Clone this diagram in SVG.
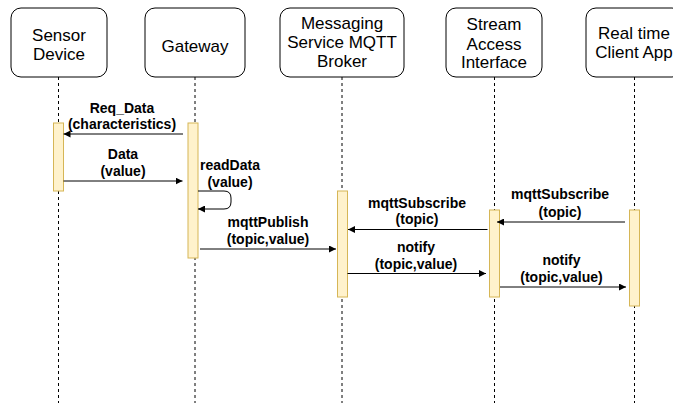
<svg xmlns="http://www.w3.org/2000/svg" width="673" height="403" viewBox="0 0 673 403">
  <style>
    .node rect { fill: #ffffff; stroke: #000000; stroke-width: 1; }
    .node text { font-family: "Liberation Sans", Arial, Helvetica, sans-serif; font-size: 17px; fill: #000000; text-anchor: middle; }
    .life { stroke: #000000; stroke-width: 1; stroke-dasharray: 3 3; fill: none; }
    .act { fill: #fff2cc; stroke: #d6b656; stroke-width: 1; }
    .msg { stroke: #000000; stroke-width: 1; fill: none; }
    .lbl { font-family: "Liberation Sans", Arial, Helvetica, sans-serif; font-size: 14px; font-weight: bold; fill: #000000; text-anchor: middle; }
  </style>
  <defs>
    <marker id="arrow" viewBox="0 0 10 10" refX="10" refY="5" markerWidth="7" markerHeight="7" orient="auto" markerUnits="userSpaceOnUse">
      <path d="M0,0 L10,5 L0,10 Z" fill="#000000"/>
    </marker>
  </defs>

  <rect width="673" height="403" fill="#ffffff"/>

  <!-- lifelines -->
  <g id="lifelines">
    <line class="life" x1="58.5" y1="77" x2="58.5" y2="403"/>
    <line class="life" x1="195" y1="77" x2="195" y2="403"/>
    <line class="life" x1="342" y1="77" x2="342" y2="403"/>
    <line class="life" x1="494.5" y1="77" x2="494.5" y2="403"/>
    <line class="life" x1="634.5" y1="77" x2="634.5" y2="403"/>
  </g>

  <!-- participants -->
  <g id="sensor" class="node">
    <rect x="11" y="8" width="96" height="69" rx="10"/>
    <text x="59" y="41">Sensor</text>
    <text x="59" y="60">Device</text>
  </g>
  <g id="gateway" class="node">
    <rect x="145" y="8" width="100" height="69" rx="10"/>
    <text x="195" y="52">Gateway</text>
  </g>
  <g id="broker" class="node">
    <rect x="280" y="8" width="124" height="69" rx="10"/>
    <text x="342" y="29">Messaging</text>
    <text x="342" y="48">Service MQTT</text>
    <text x="342" y="67">Broker</text>
  </g>
  <g id="stream" class="node">
    <rect x="446" y="8" width="96" height="69" rx="10"/>
    <text x="494" y="30">Stream</text>
    <text x="494" y="49.5">Access</text>
    <text x="494" y="68">Interface</text>
  </g>
  <g id="client" class="node">
    <rect x="586" y="8" width="96" height="69" rx="10"/>
    <text x="634" y="38.5">Real time</text>
    <text x="634" y="57.5">Client App</text>
  </g>

  <!-- activation bars -->
  <g id="activations">
    <rect class="act" x="53.5" y="123" width="10" height="68"/>
    <rect class="act" x="188" y="123" width="10" height="135"/>
    <rect class="act" x="337.5" y="191" width="10" height="106"/>
    <rect class="act" x="489.5" y="210" width="10" height="87"/>
    <rect class="act" x="629.5" y="210" width="10" height="96"/>
  </g>

  <!-- messages -->
  <g id="connectors">
    <line class="msg" x1="183" y1="134" x2="63.5" y2="134" marker-end="url(#arrow)"/>
    <line class="msg" x1="63.5" y1="181" x2="182.5" y2="181" marker-end="url(#arrow)"/>
    <path class="msg" d="M198,191 H224 Q231,191 231,198 V202 Q231,209 224,209 H198" marker-end="url(#arrow)"/>
    <line class="msg" x1="200" y1="249" x2="336" y2="249" marker-end="url(#arrow)"/>
    <line class="msg" x1="487.5" y1="229.5" x2="348" y2="229.5" marker-end="url(#arrow)"/>
    <line class="msg" x1="347.5" y1="273.5" x2="486" y2="273.5" marker-end="url(#arrow)"/>
    <line class="msg" x1="625" y1="222" x2="497" y2="222" marker-end="url(#arrow)"/>
    <line class="msg" x1="500" y1="287" x2="626" y2="287" marker-end="url(#arrow)"/>
  </g>

  <!-- message labels -->
  <g id="labels">
    <text class="lbl" x="122" y="112.5">Req_Data</text>
    <text class="lbl" x="122" y="129">(characteristics)</text>
    <text class="lbl" x="123" y="159">Data</text>
    <text class="lbl" x="123" y="176">(value)</text>
    <text class="lbl" x="230" y="170">readData</text>
    <text class="lbl" x="230" y="187">(value)</text>
    <text class="lbl" x="268" y="226.5">mqttPublish</text>
    <text class="lbl" x="268" y="243.5">(topic,value)</text>
    <text class="lbl" x="417" y="207.5">mqttSubscribe</text>
    <text class="lbl" x="417" y="224">(topic)</text>
    <text class="lbl" x="416" y="251.5">notify</text>
    <text class="lbl" x="416" y="268.5">(topic,value)</text>
    <text class="lbl" x="560" y="199">mqttSubscribe</text>
    <text class="lbl" x="560" y="216.5">(topic)</text>
    <text class="lbl" x="561.5" y="265">notify</text>
    <text class="lbl" x="561.5" y="282">(topic,value)</text>
  </g>
</svg>
